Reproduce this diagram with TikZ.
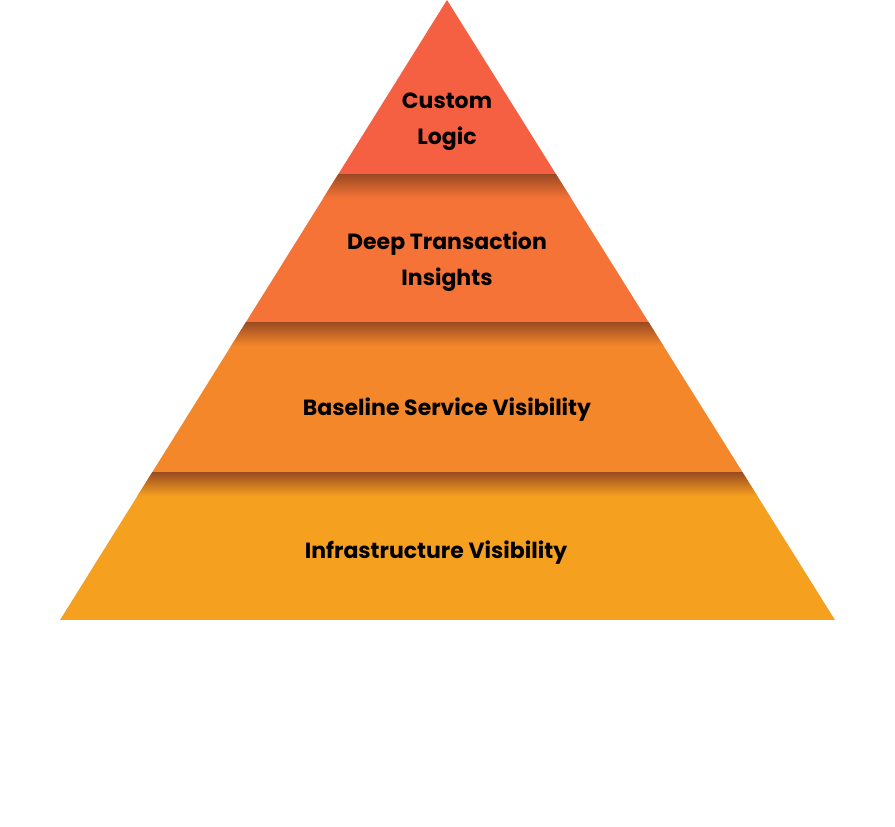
\documentclass[tikz,border=0pt]{standalone}
\usepackage{fontspec}
\setmainfont{Poppins}
\begin{document}
\begin{tikzpicture}[x=1pt,y=-1pt,
  lbl/.style={font=\fontsize{22}{36}\selectfont\bfseries, align=center, text=black}]
\definecolor{c1}{HTML}{F55F42}
\definecolor{c2}{HTML}{F57336}
\definecolor{c3}{HTML}{F5872B}
\definecolor{c4}{HTML}{F6A01F}
\definecolor{sh}{HTML}{9A4A22}
\useasboundingbox (0,0) rectangle (895,827);
\begin{scope}
\clip (447,0) -- (835,620) -- (60,620) -- cycle;
\fill[c1] (0,0) rectangle (895,174);
\fill[c2] (0,174) rectangle (895,322);
\fill[c3] (0,322) rectangle (895,472);
\fill[c4] (0,472) rectangle (895,620);
\shade[top color=sh, bottom color=c2] (0,174) rectangle (895,198);
\shade[top color=sh, bottom color=c3] (0,322) rectangle (895,346);
\shade[top color=sh, bottom color=c4] (0,472) rectangle (895,496);
\end{scope}
\node[lbl] (l1) at (447,122) {Custom\\Logic};
\node[lbl] (l2) at (447,262) {Deep Transaction\\Insights};
\node[lbl] (l3) at (447,410) {Baseline Service Visibility};
\node[lbl] (l4) at (436,553) {Infrastructure Visibility};
\end{tikzpicture}
\end{document}
